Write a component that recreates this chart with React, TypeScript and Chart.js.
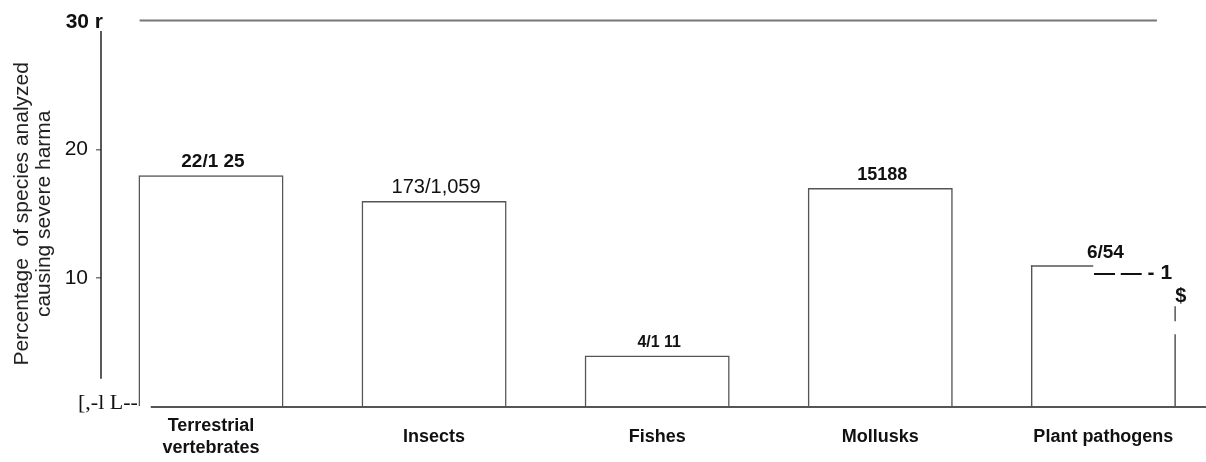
import React, { useEffect, useRef } from "react";
import { Chart, registerables } from "chart.js";

Chart.register(...registerables);

// ---- data ----
const categories: (string | string[])[] = [
  ["Terrestrial", "vertebrates"],
  "Insects",
  "Fishes",
  "Mollusks",
  "Plant pathogens",
];
const percentSevereHarm = [18, 16, 4, 17, 11];
const ratioLabels = ["22/1 25", "173/1,059", "4/1 11", "15188", "6/54"];
const yTickValues = [0, 10, 20, 30];
const yTickLabels: Record<number, string> = { 30: "30 r", 20: "20", 10: "10" };
const zeroTickLabel = "[,-l L--";
const yTitle = ["Percentage  of species analyzed", "causing severe harma"];
const pathogenNotes = ["— — - 1", "$"];

// ---- styles (kept apart from the data) ----
const FONT = "'Liberation Sans', Arial, sans-serif";
const ratioFonts = [
  { size: 19, weight: "bold" },
  { size: 20, weight: "normal" },
  { size: 16, weight: "bold" },
  { size: 18, weight: "bold" },
  { size: 19, weight: "bold" },
];

const decorPlugin = {
  id: "decor",
  afterDatasetsDraw(chart: any) {
    const { ctx, chartArea } = chart;
    const x = chart.scales.x;
    const y = chart.scales.y;
    const line = (x1: number, y1: number, x2: number, y2: number) => {
      ctx.beginPath();
      ctx.moveTo(x1, y1);
      ctx.lineTo(x2, y2);
      ctx.stroke();
    };
    ctx.save();
    // top frame line
    ctx.strokeStyle = "#777";
    ctx.lineWidth = 2;
    line(x.getPixelForValue(-0.32), y.getPixelForValue(30), x.getPixelForValue(4.24), y.getPixelForValue(30));
    // baseline
    ctx.strokeStyle = "#555";
    ctx.lineWidth = 2;
    line(x.getPixelForValue(-0.27), y.getPixelForValue(0), chartArea.right, y.getPixelForValue(0));
    // y axis line
    ctx.strokeStyle = "#222";
    ctx.lineWidth = 1.5;
    line(chartArea.left, y.getPixelForValue(29.2), chartArea.left, y.getPixelForValue(2.2));

    // top tick label, sits against the axis in the source
    ctx.fillStyle = "#111";
    ctx.font = `bold 21px ${FONT}`;
    ctx.textAlign = "right";
    ctx.textBaseline = "middle";
    ctx.fillText(yTickLabels[30], chartArea.left + 2, y.getPixelForValue(30) + 2);

    // zero tick (garbled in the source)
    ctx.font = "22px 'Liberation Serif', 'Times New Roman', serif";
    ctx.textAlign = "left";
    ctx.fillText(zeroTickLabel, chartArea.left - 23, y.getPixelForValue(0) - 4);

    // ratio labels above bars
    const meta = chart.getDatasetMeta(0);
    meta.data.forEach((el: any, i: number) => {
      const p = el.getProps(["x", "y", "width", "base"], true);
      const f = ratioFonts[i];
      ctx.font = `${f.weight} ${f.size}px ${FONT}`;
      ctx.textAlign = "center";
      ctx.textBaseline = "middle";
      ctx.fillStyle = "#111";
      ctx.fillText(ratioLabels[i], p.x + 2, p.y - 13);
    });

    // plant pathogens bar: partial outline and notes
    const last = meta.data[meta.data.length - 1];
    if (last) {
      const p = last.getProps(["x", "y", "width", "base"], true);
      const left = p.x - p.width / 2;
      const right = p.x + p.width / 2;
      ctx.strokeStyle = "#555";
      ctx.lineWidth = 1.5;
      line(left, p.y + 0.75, left + p.width * 0.43, p.y + 0.75);
      line(right - 0.75, p.y + 41, right - 0.75, p.y + 56);
      line(right - 0.75, p.y + 69, right - 0.75, p.base);
      ctx.fillStyle = "#111";
      ctx.textAlign = "left";
      ctx.textBaseline = "middle";
      ctx.font = `bold 21px ${FONT}`;
      ctx.fillText(pathogenNotes[0], left + p.width * 0.435, p.y + 8);
      ctx.font = `bold 20px ${FONT}`;
      ctx.textAlign = "center";
      ctx.fillText(pathogenNotes[1], right + 5, p.y + 31);
    }
    ctx.restore();
  },
};

export default function App() {
  const ref = useRef<HTMLCanvasElement>(null);
  useEffect(() => {
    document.body.style.margin = "0";
    const lastIndex = percentSevereHarm.length - 1;
    const chart = new Chart(ref.current as HTMLCanvasElement, {
      type: "bar",
      data: {
        datasets: [
          {
            data: percentSevereHarm.map((v, i) => ({ x: i, y: v })),
            backgroundColor: "rgba(0,0,0,0)",
            borderColor: "#555",
            borderWidth: (c: any) =>
              c.dataIndex === lastIndex ? { left: 1.5, top: 0, right: 0, bottom: 0 } : 1.5,
            borderSkipped: "bottom",
            barThickness: 145,
            inflateAmount: 0,
          } as any,
        ],
      },
      options: {
        animation: false,
        responsive: false,
        devicePixelRatio: 1,
        layout: { padding: { top: 17, left: 0, right: 0, bottom: 0 } },
        plugins: { legend: { display: false }, tooltip: { enabled: false } },
        scales: {
          x: {
            type: "linear",
            min: -0.493,
            max: 4.46,
            offset: false,
            bounds: "ticks",
            grid: { display: false, offset: false },
            border: { display: false },
            afterBuildTicks: (s: any) => {
              s.ticks = categories.map((_, i) => ({ value: i }));
            },
            afterFit: (s: any) => {
              s.height = 55;
            },
            ticks: {
              callback: (v: any) => categories[v] ?? "",
              color: "#111",
              font: { family: FONT, size: 18, weight: "bold", lineHeight: 1.22 },
              padding: 11,
              crossAlign: "center",
              maxRotation: 0,
              autoSkip: false,
            },
          } as any,
          y: {
            min: 0,
            max: 30,
            afterBuildTicks: (s: any) => {
              s.ticks = yTickValues.map((v) => ({ value: v }));
            },
            afterFit: (s: any) => {
              s.width = 101;
            },
            grid: {
              drawOnChartArea: false,
              drawTicks: true,
              tickLength: 5,
              lineWidth: 1.5,
              color: (c: any) =>
                c.tick && (c.tick.value === 10 || c.tick.value === 20) ? "#777" : "rgba(0,0,0,0)",
            },
            border: { display: false },
            ticks: {
              callback: (v: any) => (v === 10 || v === 20 ? yTickLabels[v] : ""),
              padding: 8,
              color: "#111",
              font: { family: FONT, size: 21 },
            },
            title: {
              display: true,
              text: yTitle,
              color: "#222",
              font: { family: FONT, size: 21, lineHeight: 1.05 },
              padding: { top: 11, bottom: 0 },
            },
          } as any,
        },
      },
      plugins: [decorPlugin],
    });
    return () => chart.destroy();
  }, []);
  return (
    <div style={{ width: 1206, height: 462, background: "#fff" }}>
      <canvas ref={ref} width={1206} height={462} style={{ display: "block" }} />
    </div>
  );
}
